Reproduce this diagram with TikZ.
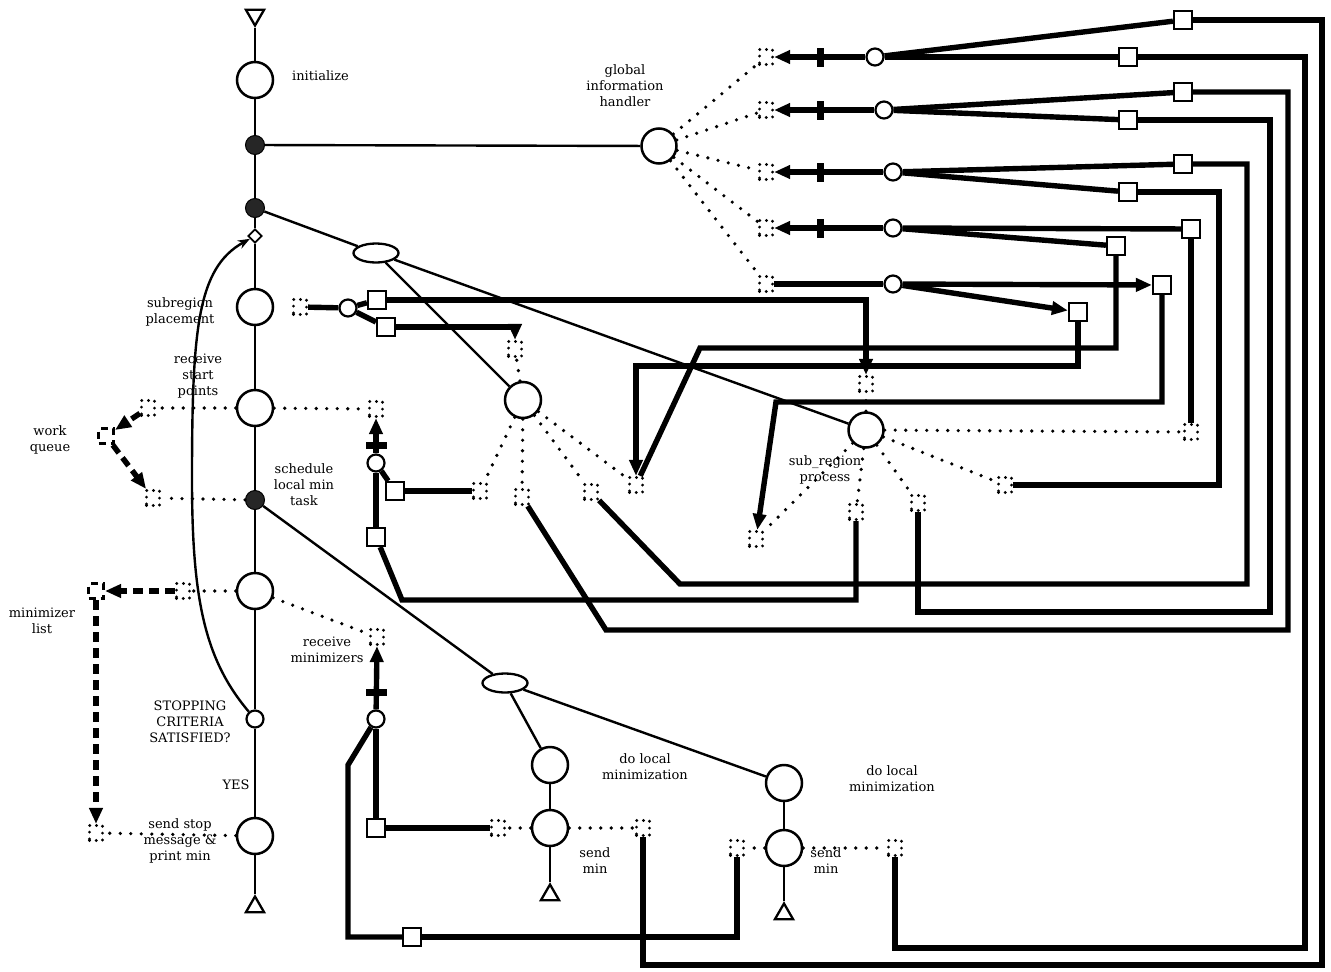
\documentclass[tikz,border=0pt]{standalone}
\usepackage{fontspec}
\setmainfont{DejaVu Serif}
\usetikzlibrary{arrows.meta,shapes.geometric}
\begin{document}
\begin{tikzpicture}[x=1pt,y=-1pt]
\tikzset{
  bigc/.style={circle,draw,line width=2.5pt,minimum size=36pt,inner sep=0pt,fill=white},
  smc/.style={circle,draw,line width=2.2pt,minimum size=17pt,inner sep=0pt,fill=white},
  blk/.style={circle,draw,fill=black!85,line width=1pt,minimum size=19pt,inner sep=0pt},
  sq/.style={rectangle,draw,line width=2.2pt,minimum size=18pt,inner sep=0pt,fill=white},
  dbox/.style={rectangle,draw,minimum width=13pt,minimum height=15pt,inner sep=0pt,line width=3.2pt,dash pattern=on 0pt off 6.8pt,line cap=round},
  qbox/.style={rectangle,draw,minimum size=15pt,inner sep=0pt,line width=3pt,dash pattern=on 7pt off 5pt},
  oval/.style={ellipse,draw,line width=2.3pt,minimum width=45pt,minimum height=19pt,inner sep=0pt,fill=white},
  dmdshape/.style={diamond,draw,line width=1.8pt,minimum size=14pt,inner sep=0pt,fill=white},
  trg/.style={regular polygon,regular polygon sides=3,draw,line width=2.3pt,minimum size=21pt,inner sep=0pt,fill=white},
  vbar/.style={rectangle,fill=black,minimum width=7pt,minimum height=19pt,inner sep=0pt},
  hbar/.style={rectangle,fill=black,minimum width=21pt,minimum height=7pt,inner sep=0pt},
  thn/.style={line width=2.4pt},
  thk/.style={line width=5.4pt},
  dotl/.style={line width=3.6pt,dash pattern=on 0pt off 10.5pt,line cap=round},
  dashk/.style={line width=5.5pt,dash pattern=on 10pt off 6pt},
  arr/.style={-{Triangle[length=16pt,width=13pt]}},
  lbl/.style={align=center,inner sep=0pt,font=\fontsize{13}{16}\selectfont},
}
\useasboundingbox (0,0) rectangle (1331,972);

% ---------- left column ----------
\node[trg,shape border rotate=180] (ttri) at (255,15) {};
\node[bigc] (init) at (255,80) {};
\node[blk] (dotA) at (255,145) {};
\node[blk] (dotB) at (255,208) {};
\node[dmdshape] (dmd) at (255,236) {};
\node[bigc] (subpl) at (255,307) {};
\node[bigc] (rsp) at (255,408) {};
\node[blk] (sched) at (255,500) {};
\node[bigc] (rmin) at (255,591) {};
\node[smc] (stop) at (255,719) {};
\node[bigc] (sstop) at (255,836) {};
\node[trg] (btri) at (255,907) {};
\draw[thn] (ttri) -- (init) -- (dotA) -- (dotB) -- (dmd) -- (subpl) -- (rsp) -- (sched) -- (rmin) -- (stop) -- (sstop) -- (btri);

\draw[thn,-{Stealth[length=12pt,width=9pt]}] (stop) .. controls (205,660) and (192,600) .. (192,480) .. controls (192,330) and (197,268) .. (dmd);

% ---------- global information handler ----------
\node[bigc,minimum size=35pt] (gih) at (659,146) {};
\draw[thn] (dotA) -- (gih);

\node[dbox] (r1) at (766,57) {};
\node[dbox] (r2) at (766,110) {};
\node[dbox] (r3) at (766,172) {};
\node[dbox] (r4) at (766,228) {};
\node[dbox] (r5) at (766,284) {};
\foreach \r in {r1,r2,r3,r4,r5} \draw[dotl] (gih) -- (\r);

\node[smc] (c1) at (875,57) {};
\node[smc] (c2) at (884,110) {};
\node[smc] (c3) at (893,172) {};
\node[smc] (c4) at (893,228) {};
\node[smc] (c5) at (893,284) {};

\node[sq] (A1) at (1183,20) {};
\node[sq] (B1) at (1128,57) {};
\node[sq] (A2) at (1183,92) {};
\node[sq] (B2) at (1128,120) {};
\node[sq] (A3) at (1183,164) {};
\node[sq] (B3) at (1128,192) {};
\node[sq] (A4) at (1191,229) {};
\node[sq] (B4) at (1116,246) {};
\node[sq] (D5) at (1162,285) {};
\node[sq] (C5) at (1078,312) {};

\draw[thk,arr] (c1) -- (r1);
\draw[thk,arr] (c2) -- (r2);
\draw[thk,arr] (c3) -- (r3);
\draw[thk,arr] (c4) -- (r4);
\node[vbar] (t1) at (820,57) {};
\node[vbar] (t2) at (820,110) {};
\node[vbar] (t3) at (820,172) {};
\node[vbar] (t4) at (820,228) {};

\draw[thk] (c1) -- (A1);
\draw[thk] (c1) -- (B1);
\draw[thk] (c2) -- (A2);
\draw[thk] (c2) -- (B2);
\draw[thk] (c3) -- (A3);
\draw[thk] (c3) -- (B3);
\draw[thk] (c4) -- (A4);
\draw[thk] (c4) -- (B4);
\draw[thk] (r5) -- (c5);
\draw[thk,arr] (c5) -- (D5);
\draw[thk,arr] (c5) -- (C5);

% ---------- middle ----------
\node[oval] (E1) at (376,253) {};
\node[bigc] (M) at (523,400) {};
\node[bigc,minimum size=35pt] (SR) at (866,430) {};
\draw[thn] (dotB) -- (E1);
\draw[thn] (E1) -- (SR);
\draw[thn] (E1) -- (M);

\node[dbox] (bxsp) at (300,307) {};
\node[smc] (s1) at (348,308) {};
\node[sq] (P1) at (377,300) {};
\node[sq] (P2) at (386,327) {};
\draw[thk] (bxsp) -- (s1);
\draw[thk] (s1) -- (P1);
\draw[thk] (s1) -- (P2);

\node[dbox] (bxMt) at (515,349) {};
\node[dbox] (bxa) at (480,491) {};
\node[dbox] (bxb) at (522,497) {};
\node[dbox] (bxc) at (591,492) {};
\node[dbox] (bxd) at (636,485) {};
\foreach \b in {bxMt,bxa,bxb,bxc,bxd} \draw[dotl] (M) -- (\b);

\node[dbox] (bxSRt) at (866,384) {};
\node[dbox] (bxSR0) at (756,539) {};
\node[dbox] (bxSR1) at (856,512) {};
\node[dbox] (bxSR2) at (918,503) {};
\node[dbox] (bxSR3) at (1005,485) {};
\node[dbox] (bxSR4) at (1191,432) {};
\foreach \b in {bxSRt,bxSR0,bxSR1,bxSR2,bxSR3,bxSR4} \draw[dotl] (SR) -- (\b);

\draw[thk,arr] (P1.east) -- (866,300) -- (bxSRt.north);
\draw[thk,arr] (P2.east) -- (515,327) -- (bxMt.north);

% receive start points
\node[dbox] (bxq1) at (376,409) {};
\draw[dotl] (rsp) -- (bxq1);
\node[smc] (s2) at (376,463) {};
\node[sq] (P3) at (395,491) {};
\node[sq] (P4) at (376,537) {};
\draw[thk,arr] (s2) -- (bxq1.south);
\node[hbar] (t5) at (376,445) {};
\draw[thk] (s2) -- (P3);
\draw[thk] (P3) -- (bxa);
\draw[thk] (s2) -- (P4);
\draw[thk] (P4) -- (402,600) -- (856,600) -- (bxSR1.south);

% receive minimizers
\node[dbox] (bxrm) at (377,637) {};
\draw[dotl] (rmin) -- (bxrm);
\node[smc] (s3) at (376,719) {};
\node[sq] (P5) at (376,828) {};
\node[sq] (P6) at (412,937) {};
\draw[thk,arr] (s3) -- (bxrm.south);
\node[hbar] (t6) at (376,692) {};
\draw[thk] (s3) -- (P5);
\draw[thk] (s3) -- (348,765) -- (348,937) -- (P6);

% local minimization
\node[oval] (E2) at (505,683) {};
\node[bigc] (L1) at (550,765) {};
\node[bigc] (SM1) at (550,828) {};
\node[trg] (T1) at (550,895) {};
\node[bigc] (L2) at (784,783) {};
\node[bigc] (SM2) at (784,848) {};
\node[trg] (T2) at (784,914) {};
\draw[thn] (sched) -- (E2);
\draw[thn] (E2) -- (L1);
\draw[thn] (E2) -- (L2);
\draw[thn] (L1) -- (SM1) -- (T1);
\draw[thn] (L2) -- (SM2) -- (T2);

\node[dbox] (bxL1) at (498,828) {};
\node[dbox] (bxR1) at (643,828) {};
\node[dbox] (bxL2) at (737,848) {};
\node[dbox] (bxR2) at (895,848) {};
\draw[dotl] (SM1) -- (bxL1);
\draw[dotl] (SM1) -- (bxR1);
\draw[dotl] (SM2) -- (bxL2);
\draw[dotl] (SM2) -- (bxR2);
\draw[thk] (P5) -- (bxL1);
\draw[thk] (P6) -- (737,937) -- (bxL2.south);

% ---------- right routing ----------
\draw[thk] (A1.east) -| (1322,965) -| (bxR1.south);
\draw[thk] (B1.east) -| (1305,948) -| (bxR2.south);
\draw[thk] (A2.east) -| (1288,630) -- (606,630) -- (bxb);
\draw[thk] (B2.east) -| (1270,612) -| (bxSR2.south);
\draw[thk] (A3.east) -| (1247,584) -- (680,584) -- (bxc);
\draw[thk] (B3.east) -| (1219,485) -- (bxSR3.east);
\draw[thk] (A4) -- (bxSR4);
\draw[thk] (B4.south) |- (700,348) -- (bxd);
\draw[thk,arr] (C5.south) |- (636,366) -- (bxd.north);
\draw[thk,arr] (D5.south) |- (776,402) -- (bxSR0);

% ---------- work queue / minimizer list ----------
\node[dbox] (bxw1) at (148,408) {};
\node[dbox] (bxw2) at (153,498) {};
\node[qbox] (WQ) at (106,436) {};
\draw[dotl] (rsp) -- (bxw1);
\draw[dotl] (sched) -- (bxw2);
\draw[dashk,arr] (bxw1) -- (WQ);
\draw[dashk,arr] (WQ) -- (bxw2);

\node[dbox] (bxm1) at (183,591) {};
\node[qbox] (ML) at (96,591) {};
\node[dbox] (bxm2) at (96,833) {};
\draw[dotl] (rmin) -- (bxm1);
\draw[dotl] (sstop) -- (bxm2);
\draw[dashk,arr] (bxm1) -- (ML);
\draw[dashk,arr] (ML) -- (bxm2);

% ---------- labels ----------
\node[lbl,anchor=west] (tinit) at (292,76) {initialize};
\node[lbl] (tgih) at (625,86) {global\\information\\handler};
\node[lbl] (tsub) at (180,312) {subregion\\placement};
\node[lbl] (trsp) at (198,376) {receive\\start\\points};
\node[lbl] (tsch) at (304,485) {schedule\\local min\\task};
\node[lbl] (twq) at (50,440) {work\\queue};
\node[lbl] (tml) at (42,621) {minimizer\\list};
\node[lbl] (trm) at (327,650) {receive\\minimizers};
\node[lbl] (tstop) at (190,722) {STOPPING\\CRITERIA\\SATISFIED?};
\node[lbl] (tyes) at (236,785) {YES};
\node[lbl] (tss) at (180,841) {send stop\\message \&\\print min};
\node[lbl] (tsr) at (825,470) {sub\_region\\process};
\node[lbl] (tdl1) at (645,767) {do local\\minimization};
\node[lbl] (tdl2) at (892,779) {do local\\minimization};
\node[lbl] (tsm1) at (595,861) {send\\min};
\node[lbl] (tsm2) at (826,861) {send\\min};
\end{tikzpicture}
\end{document}
